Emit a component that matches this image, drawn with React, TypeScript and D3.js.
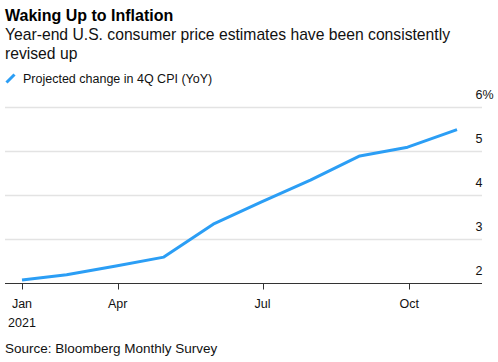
import React, { useEffect, useRef } from 'react'
import { scaleTime, scaleLinear, select, line, timeMonth, timeFormat } from 'd3';

// survey dates (month ends) and projected 4Q CPI change, %
const surveyDates = ['2021-01-31', '2021-02-28', '2021-03-31', '2021-04-30', '2021-05-31', '2021-06-30', '2021-07-31', '2021-08-31', '2021-09-30', '2021-10-31'];
const cpiProjection = [2.08, 2.2, 2.4, 2.6, 3.35, 3.85, 4.35, 4.9, 5.1, 5.5];
const yTicks = [2, 3, 4, 5, 6];

const FONT = '"Liberation Sans", Arial, sans-serif';
const BLUE = '#2b9ef5';

const App = () => {
    const chartRef = useRef<SVGSVGElement>(null);

    useEffect(() => {
        const width = 498;
        const height = 362;
        const plotLeft = 5;
        const plotRight = 482;

        const dates = surveyDates.map(d => new Date(d + 'T00:00:00'));
        const data = dates.map((d, i) => ({ date: d, value: cpiProjection[i] }));

        const x = scaleTime()
            .domain([dates[0], dates[dates.length - 1]])
            .range([22, 457]);

        const y = scaleLinear()
            .domain([2, 6])
            .range([283.5, 107.6]);

        const svg = select(chartRef.current);
        svg.selectAll('*').remove();
        svg.attr('width', width).attr('height', height);

        svg.append('rect').attr('width', width).attr('height', height).attr('fill', '#fff');

        // titles
        svg.append('text').attr('x', 5).attr('y', 21)
            .style('font-family', FONT).style('font-size', '16px').style('font-weight', 'bold')
            .attr('fill', '#000').text('Waking Up to Inflation');
        svg.append('text').attr('x', 5).attr('y', 39.5)
            .style('font-family', FONT).style('font-size', '15.7px')
            .attr('fill', '#111').text('Year-end U.S. consumer price estimates have been consistently');
        svg.append('text').attr('x', 5).attr('y', 58.5)
            .style('font-family', FONT).style('font-size', '15.7px')
            .attr('fill', '#111').text('revised up');

        // legend
        svg.append('line').attr('x1', 6.5).attr('y1', 82.5).attr('x2', 14.5).attr('y2', 74.5)
            .attr('stroke', BLUE).attr('stroke-width', 3);
        svg.append('text').attr('x', 23).attr('y', 82.5)
            .style('font-family', FONT).style('font-size', '12.5px')
            .attr('fill', '#111').text('Projected change in 4Q CPI (YoY)');

        // gridlines + y labels
        svg.append('g').selectAll('line')
            .data(yTicks.filter(t => t !== 2))
            .enter()
            .append('line')
            .attr('x1', plotLeft).attr('x2', plotRight)
            .attr('y1', d => y(d)).attr('y2', d => y(d))
            .attr('stroke', '#e3e3e3').attr('stroke-width', 1.5);

        svg.append('g').selectAll('text')
            .data(yTicks)
            .enter()
            .append('text')
            .attr('x', 475.5)
            .attr('y', d => y(d) - 9)
            .style('font-family', FONT).style('font-size', '12.5px')
            .attr('fill', '#111')
            .text(d => d === 6 ? `${d}%` : `${d}`);

        // baseline axis
        svg.append('line')
            .attr('x1', plotLeft).attr('x2', plotRight)
            .attr('y1', y(2)).attr('y2', y(2))
            .attr('stroke', '#333').attr('stroke-width', 1);

        // x ticks: first survey + quarter starts
        const xTicks = [dates[0], ...timeMonth.every(3)!.range(dates[0], dates[dates.length - 1])];
        const fmt = timeFormat('%b');
        const tg = svg.append('g');
        tg.selectAll('line')
            .data(xTicks)
            .enter()
            .append('line')
            .attr('x1', d => Math.round(x(d)) + 0.5).attr('x2', d => Math.round(x(d)) + 0.5)
            .attr('y1', y(2)).attr('y2', y(2) + 6)
            .attr('stroke', '#333').attr('stroke-width', 1);
        tg.selectAll('text.m')
            .data(xTicks)
            .enter()
            .append('text')
            .attr('class', 'm')
            .attr('x', d => x(d))
            .attr('y', 308)
            .attr('text-anchor', 'middle')
            .style('font-family', FONT).style('font-size', '12.5px')
            .attr('fill', '#111')
            .text(d => fmt(d));
        tg.append('text')
            .attr('x', x(xTicks[0]))
            .attr('y', 327)
            .attr('text-anchor', 'middle')
            .style('font-family', FONT).style('font-size', '12.5px')
            .attr('fill', '#111')
            .text('2021');

        // series line
        svg.append('path')
            .datum(data)
            .attr('d', line<{ date: Date, value: number }>().x(d => x(d.date)).y(d => y(d.value)))
            .attr('fill', 'none')
            .attr('stroke', BLUE)
            .attr('stroke-width', 3)
            .attr('stroke-linejoin', 'round');

        // source
        svg.append('text').attr('x', 5).attr('y', 353)
            .style('font-family', FONT).style('font-size', '13.5px')
            .attr('fill', '#111').text('Source: Bloomberg Monthly Survey');
    }, [chartRef]);

    return (
        <svg ref={chartRef} style={{ position: 'absolute', left: 0, top: 0, display: 'block' }} />
    )
}

export default App
